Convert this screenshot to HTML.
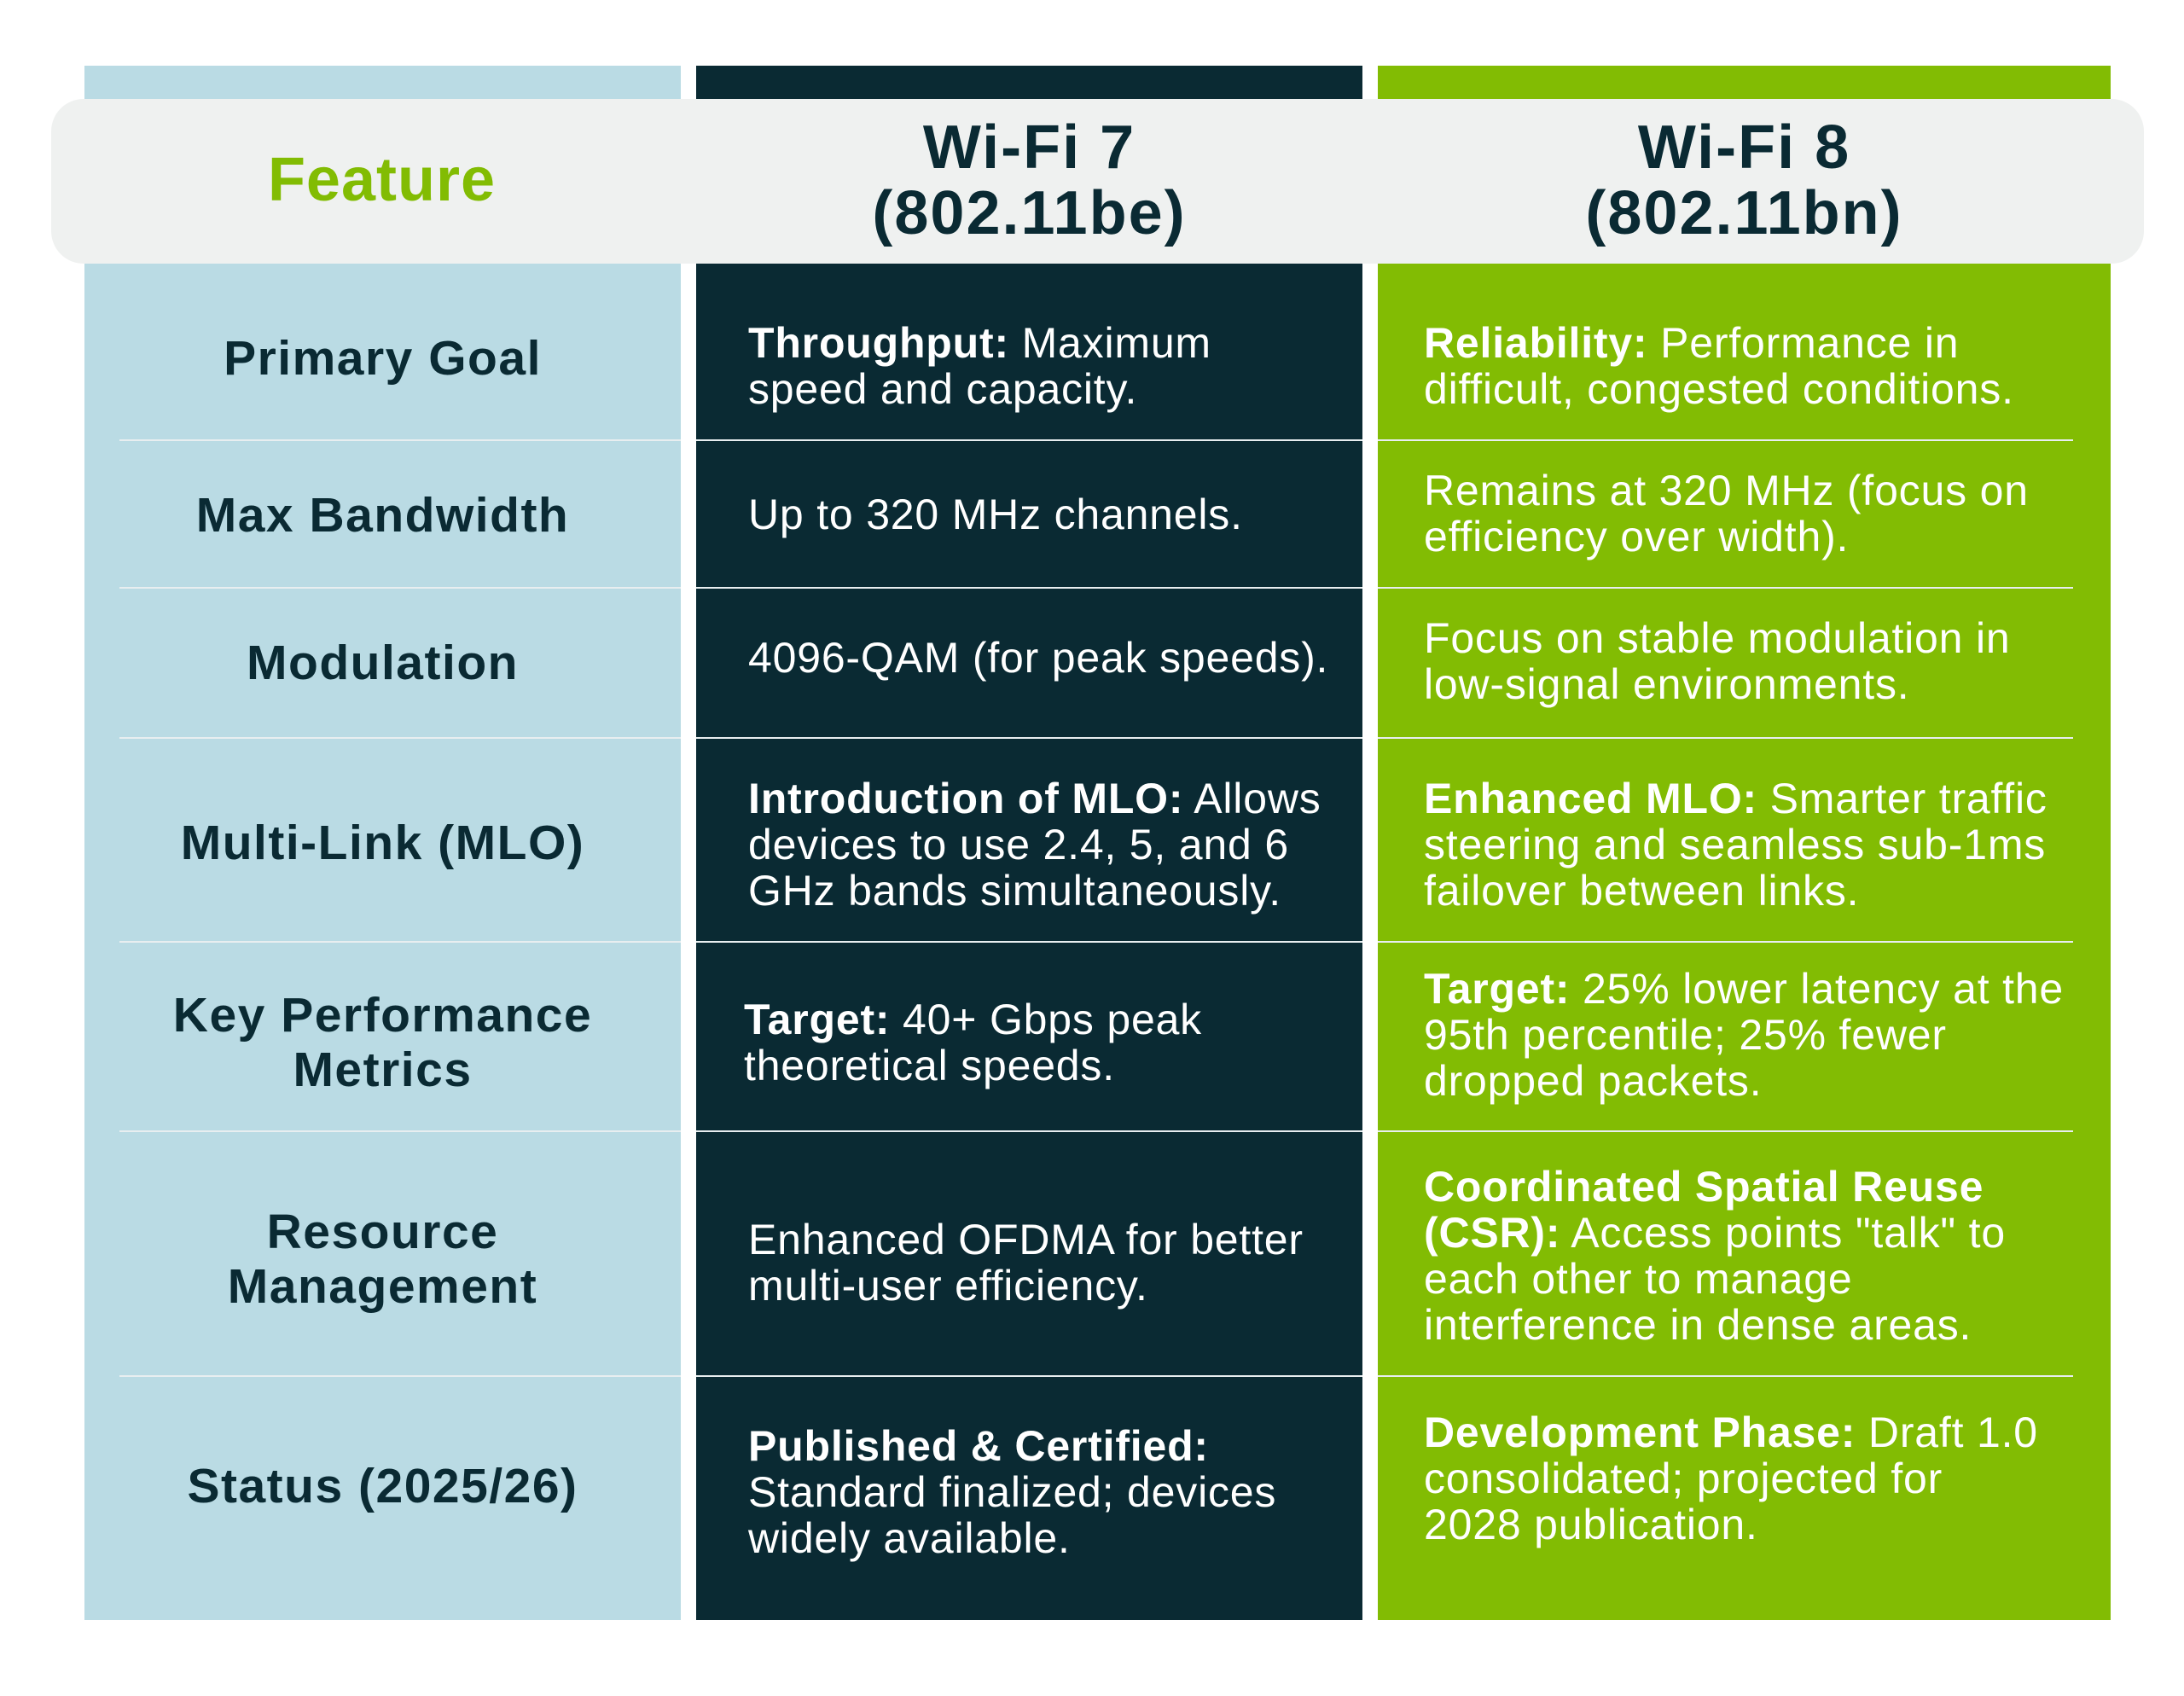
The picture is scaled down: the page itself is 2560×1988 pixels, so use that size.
<!DOCTYPE html>
<html><head><meta charset="utf-8"><style>
body{margin:0;width:2560px;height:1988px;background:#fff;position:relative;overflow:hidden;font-family:"Liberation Sans",sans-serif}
.a{position:absolute}
.t{position:absolute;white-space:nowrap;font-size:50px;letter-spacing:0.8px;line-height:54px;color:#fff}
.l{position:absolute;left:99px;width:699px;text-align:center;font-weight:bold;font-size:57px;letter-spacing:1.5px;line-height:64px;color:#0a2a33;white-space:nowrap}
.h{position:absolute;height:2px;background:#e8eef0}
b{font-weight:bold}
</style></head><body>
<div class="a" style="left:99px;top:77px;width:699px;height:1822px;background:#badbe4"></div>
<div class="a" style="left:816px;top:77px;width:781px;height:1822px;background:#0a2a33"></div>
<div class="a" style="left:1615px;top:77px;width:859px;height:1822px;background:#82bc03"></div>
<div class="a" style="left:60px;top:116px;width:2453px;height:193px;background:#eff1f0;border-radius:38px"></div>
<div class="a" style="left:60px;top:211px;width:775px;text-align:center;transform:translateY(-50%);font-weight:bold;font-size:72px;letter-spacing:1px;color:#82bc03">Feature</div>
<div class="a" style="left:816px;width:781px;top:135px;text-align:center;font-weight:bold;font-size:72px;letter-spacing:2px;line-height:77px;color:#0a2a33">Wi-Fi 7<br>(802.11be)</div>
<div class="a" style="left:1615px;width:859px;top:135px;text-align:center;font-weight:bold;font-size:72px;letter-spacing:2px;line-height:77px;color:#0a2a33">Wi-Fi 8<br>(802.11bn)</div>

<div class="h" style="left:140px;width:658px;top:515px"></div><div class="h" style="left:816px;width:781px;top:515px"></div><div class="h" style="left:1615px;width:815px;top:515px"></div>
<div class="h" style="left:140px;width:658px;top:688px"></div><div class="h" style="left:816px;width:781px;top:688px"></div><div class="h" style="left:1615px;width:815px;top:688px"></div>
<div class="h" style="left:140px;width:658px;top:864px"></div><div class="h" style="left:816px;width:781px;top:864px"></div><div class="h" style="left:1615px;width:815px;top:864px"></div>
<div class="h" style="left:140px;width:658px;top:1103px"></div><div class="h" style="left:816px;width:781px;top:1103px"></div><div class="h" style="left:1615px;width:815px;top:1103px"></div>
<div class="h" style="left:140px;width:658px;top:1325px"></div><div class="h" style="left:816px;width:781px;top:1325px"></div><div class="h" style="left:1615px;width:815px;top:1325px"></div>
<div class="h" style="left:140px;width:658px;top:1612px"></div><div class="h" style="left:816px;width:781px;top:1612px"></div><div class="h" style="left:1615px;width:815px;top:1612px"></div>

<div class="l" style="top:388px">Primary Goal</div>
<div class="l" style="top:572px">Max Bandwidth</div>
<div class="l" style="top:745px">Modulation</div>
<div class="l" style="top:956px">Multi-Link (MLO)</div>
<div class="l" style="top:1158px">Key Performance<br>Metrics</div>
<div class="l" style="top:1412px">Resource<br>Management</div>
<div class="l" style="top:1710px">Status (2025/26)</div>

<div class="t" style="left:877px;top:375px"><b>Throughput:</b> Maximum<br>speed and capacity.</div>
<div class="t" style="left:877px;top:576px">Up to 320 MHz channels.</div>
<div class="t" style="left:877px;top:744px">4096-QAM (for peak speeds).</div>
<div class="t" style="left:877px;top:909px"><b>Introduction of MLO:</b> Allows<br>devices to use 2.4, 5, and 6<br>GHz bands simultaneously.</div>
<div class="t" style="left:872px;top:1168px"><b>Target:</b> 40+ Gbps peak<br>theoretical speeds.</div>
<div class="t" style="left:877px;top:1426px">Enhanced OFDMA for better<br>multi-user efficiency.</div>
<div class="t" style="left:877px;top:1668px"><b>Published &amp; Certified:</b><br>Standard finalized; devices<br>widely available.</div>

<div class="t" style="left:1669px;top:375px"><b>Reliability:</b> Performance in<br>difficult, congested conditions.</div>
<div class="t" style="left:1669px;top:548px">Remains at 320 MHz (focus on<br>efficiency over width).</div>
<div class="t" style="left:1669px;top:721px">Focus on stable modulation in<br>low-signal environments.</div>
<div class="t" style="left:1669px;top:909px"><b>Enhanced MLO:</b> Smarter traffic<br>steering and seamless sub-1ms<br>failover between links.</div>
<div class="t" style="left:1669px;top:1132px"><b>Target:</b> 25% lower latency at the<br>95th percentile; 25% fewer<br>dropped packets.</div>
<div class="t" style="left:1669px;top:1364px"><b>Coordinated Spatial Reuse<br>(CSR):</b> Access points "talk" to<br>each other to manage<br>interference in dense areas.</div>
<div class="t" style="left:1669px;top:1652px"><b>Development Phase:</b> Draft 1.0<br>consolidated; projected for<br>2028 publication.</div>
</body></html>
